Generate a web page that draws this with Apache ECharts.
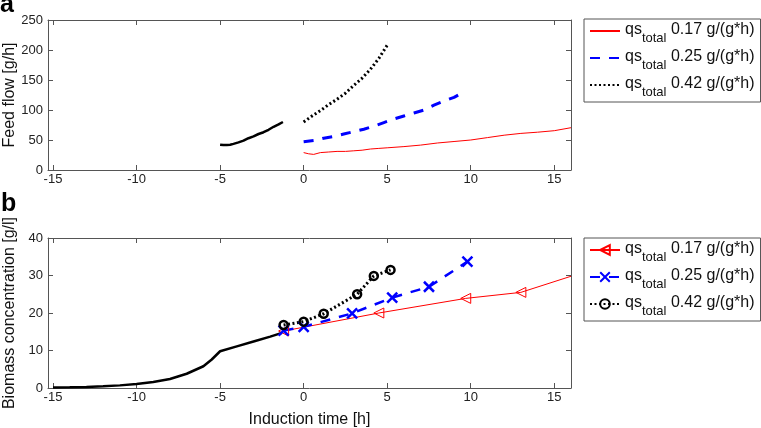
<!DOCTYPE html>
<html>
<head>
<meta charset="utf-8">
<script src="https://cdn.jsdelivr.net/npm/echarts@6/dist/echarts.min.js"></script>
<style>
html,body{margin:0;padding:0;background:#fff;}
#chart{width:761px;height:428px;}
</style>
</head>
<body>
<div id="chart"></div>
<script>
// ---------- data ----------
const xTicks = [-15, -10, -5, 0, 5, 10, 15];
const feedTicks = [0, 50, 100, 150, 200, 250];
const bioTicks = [0, 10, 20, 30, 40];
const legendTexts = ['0.17 g/(g*h)', '0.25 g/(g*h)', '0.42 g/(g*h)'];

// panel a: feed flow [g/h]
const feedPreX = [-5, -4.8, -4.6, -4.4, -4.2, -3.9, -3.6, -3.3, -3.0, -2.7, -2.4, -2.1, -1.8, -1.5, -1.24];
const feedPreY = [42, 41.5, 41.5, 42, 43.5, 46, 49, 53, 56, 60, 63, 67, 72, 76, 80];
const feed017X = [0, 0.3, 0.6, 1, 1.5, 2, 2.5, 3, 3.5, 4, 4.5, 5, 6, 7, 8, 9, 10, 11, 12, 13, 14, 15, 16];
const feed017Y = [29, 27, 26, 29, 30, 31, 31, 32, 33, 35, 36, 37, 39, 41.5, 45, 47.5, 50, 54, 58, 61, 63, 65.5, 70.5];
const feed025X = [0, 0.6, 1.2, 1.8, 2.4, 3, 3.6, 4.2, 4.8, 5.4, 6, 6.6, 7.2, 7.8, 8.4, 9, 9.46];
const feed025Y = [47, 49, 53, 56, 60, 64, 68, 73, 79, 85, 90, 95, 100, 108, 115, 121, 128];
const feed042X = [0, 0.5, 1, 1.5, 2, 2.5, 3, 3.5, 4, 4.5, 5];
const feed042Y = [80, 90, 99, 109, 118, 128, 141, 153, 168, 186, 208];

// panel b: biomass concentration [g/l]
const bioPreX = [-15, -14, -13, -12, -11, -10, -9, -8, -7, -6, -5.5, -5, -4, -3, -2, -1.3];
const bioPreY = [0.12, 0.19, 0.29, 0.45, 0.7, 1.07, 1.6, 2.4, 3.8, 5.8, 7.6, 9.8, 11.1, 12.4, 13.7, 14.7];
const bio017X = [-1.2, 4.5, 9.7, 13, 16];
const bio017Y = [15.2, 20, 23.9, 25.5, 29.8];
const bio025X = [-1.2, 0, 2.9, 5.3, 7.5, 9.8];
const bio025Y = [15.3, 16.3, 19.9, 24.1, 27.0, 33.7];
const bio042X = [-1.2, 0, 1.2, 3.2, 4.2, 5.2];
const bio042Y = [16.8, 17.7, 19.8, 25.0, 29.9, 31.5];

// ---------- chart ----------
const FONT = '"Liberation Sans", Arial, Helvetica, sans-serif';
const zip = (xs, ys) => xs.map((x, i) => [x, ys[i]]);
const FRAME = '#555';

function xAxes(g, withName) {
  const base = {
    type: 'value', gridIndex: g, min: -15.3, max: 16,
    axisLine: { show: true, onZero: false, lineStyle: { color: FRAME, width: 1 } },
    axisTick: { show: true, inside: true, length: 5, customValues: xTicks, lineStyle: { color: FRAME } },
    splitLine: { show: false }
  };
  const bottom = Object.assign({}, base, {
    position: 'bottom',
    axisLabel: { show: true, customValues: xTicks, fontSize: 13, color: '#222', margin: 3, fontFamily: FONT }
  });
  if (withName) {
    bottom.name = 'Induction time [h]';
    bottom.nameLocation = 'middle';
    bottom.nameGap = 24;
    bottom.nameMoveOverlap = false;
    bottom.nameTextStyle = { fontSize: 16, color: '#111', fontFamily: FONT };
  }
  const top = Object.assign({}, base, { position: 'top', axisLabel: { show: false } });
  return [bottom, top];
}

function yAxes(g, ticks, name) {
  const max = ticks[ticks.length - 1];
  const interval = ticks[1] - ticks[0];
  const base = {
    type: 'value', gridIndex: g, min: ticks[0], max: max, interval: interval,
    axisLine: { show: true, onZero: false, lineStyle: { color: FRAME, width: 1 } },
    axisTick: { show: true, inside: true, length: 5, lineStyle: { color: FRAME } },
    splitLine: { show: false }
  };
  const left = Object.assign({}, base, {
    position: 'left',
    axisLabel: { show: true, fontSize: 13, color: '#222', margin: 5, fontFamily: FONT },
    name: name, nameLocation: 'middle', nameGap: 30, nameMoveOverlap: false,
    nameTextStyle: { fontSize: 16, color: '#111', fontFamily: FONT }
  });
  const right = Object.assign({}, base, { position: 'right', axisLabel: { show: false } });
  return [left, right];
}

const legendMap = {
  feed017: legendTexts[0], feed025: legendTexts[1], feed042: legendTexts[2],
  bio017: legendTexts[0], bio025: legendTexts[1], bio042: legendTexts[2]
};

function legend(top, names, hideSymbol) {
  const l = {
    orient: 'vertical', left: 584, top: top,
    data: names,
    itemWidth: 30, itemHeight: 12, itemGap: 4,
    padding: [3, 6, 3, 5],
    borderColor: FRAME, borderWidth: 1, backgroundColor: '#fff',
    selectedMode: false,
    formatter: n => '{m|qs}{s|total}{m| ' + legendMap[n] + '}',
    textStyle: {
      fontFamily: FONT, color: '#111', fontSize: 16,
      rich: {
        m: { fontSize: 16, lineHeight: 18, verticalAlign: 'top', fontFamily: FONT, color: '#111' },
        s: { fontSize: 13, lineHeight: 13, verticalAlign: 'top', padding: [10, 0, 0, 0], fontFamily: FONT, color: '#111' }
      }
    }
  };
  if (hideSymbol) l.itemStyle = { opacity: 0 };
  return l;
}

const RED = '#ff0000', BLUE = '#0000ff', BLACK = '#000000';
const TRI_LEFT = 'path://M0,5 L10,0 L10,10 Z';
const CROSS = 'path://M0,0 L10,10 M10,0 L0,10';

const bio017Data = zip(bio017X, bio017Y).map((p, i, arr) =>
  i === arr.length - 1 ? { value: p, symbol: 'none' } : p);

const option = {
  animation: false,
  backgroundColor: '#fff',
  textStyle: { fontFamily: FONT },
  grid: [
    { left: 48, top: 20, width: 523, height: 150, containLabel: false, outerBoundsMode: 'none' },
    { left: 48, top: 238, width: 523, height: 150, containLabel: false, outerBoundsMode: 'none' }
  ],
  xAxis: [].concat(xAxes(0, false), xAxes(1, true)),
  yAxis: [].concat(yAxes(0, feedTicks, 'Feed flow [g/h]'), yAxes(1, bioTicks, 'Biomass concentration [g/l]')),
  legend: [
    legend(19, ['feed017', 'feed025', 'feed042'], true),
    legend(238, ['bio017', 'bio025', 'bio042'], false)
  ],
  graphic: [
    { type: 'text', x: 0, y: 5, style: { text: 'a', fontSize: 25, fontWeight: 'bold', fontFamily: FONT, fill: '#000', verticalAlign: 'middle' } },
    { type: 'text', x: 1, y: 204, style: { text: 'b', fontSize: 25, fontWeight: 'bold', fontFamily: FONT, fill: '#000', verticalAlign: 'middle' } }
  ],
  series: [
    // panel a
    { name: 'feedPre', type: 'line', xAxisIndex: 0, yAxisIndex: 0, data: zip(feedPreX, feedPreY),
      symbol: 'none', lineStyle: { color: BLACK, width: 2.5 }, itemStyle: { color: BLACK } },
    { name: 'feed017', type: 'line', xAxisIndex: 0, yAxisIndex: 0, data: zip(feed017X, feed017Y),
      symbol: 'none', lineStyle: { color: RED, width: 1 }, itemStyle: { color: RED } },
    { name: 'feed025', type: 'line', xAxisIndex: 0, yAxisIndex: 0, data: zip(feed025X, feed025Y),
      symbol: 'none', lineStyle: { color: BLUE, width: 3, type: [10, 9] }, itemStyle: { color: BLUE } },
    { name: 'feed042', type: 'line', xAxisIndex: 0, yAxisIndex: 0, data: zip(feed042X, feed042Y),
      symbol: 'none', lineStyle: { color: BLACK, width: 3, type: [2, 2.5] }, itemStyle: { color: BLACK } },
    // panel b
    { name: 'bioPre', type: 'line', xAxisIndex: 2, yAxisIndex: 2, data: zip(bioPreX, bioPreY),
      symbol: 'none', lineStyle: { color: BLACK, width: 2.5 }, itemStyle: { color: BLACK } },
    { name: 'bio017', type: 'line', xAxisIndex: 2, yAxisIndex: 2, data: bio017Data,
      symbol: TRI_LEFT, symbolSize: 10, showAllSymbol: true,
      lineStyle: { color: RED, width: 1 },
      itemStyle: { color: 'rgba(255,255,255,0)', borderColor: RED, borderWidth: 1 } },
    { name: 'bio025', type: 'line', xAxisIndex: 2, yAxisIndex: 2, data: zip(bio025X, bio025Y),
      symbol: CROSS, symbolSize: 10, showAllSymbol: true,
      lineStyle: { color: BLUE, width: 2.5, type: [10, 9] },
      itemStyle: { color: 'rgba(255,255,255,0)', borderColor: BLUE, borderWidth: 2.5 } },
    { name: 'bio042', type: 'line', xAxisIndex: 2, yAxisIndex: 2, data: zip(bio042X, bio042Y),
      symbol: 'circle', symbolSize: 8, showAllSymbol: true,
      lineStyle: { color: BLACK, width: 3, type: [2, 2.5] },
      itemStyle: { color: 'rgba(255,255,255,0)', borderColor: BLACK, borderWidth: 2.5 } }
  ]
};

const chart = echarts.init(document.getElementById('chart'), null, { renderer: 'canvas' });
chart.setOption(option);
</script>
</body>
</html>
